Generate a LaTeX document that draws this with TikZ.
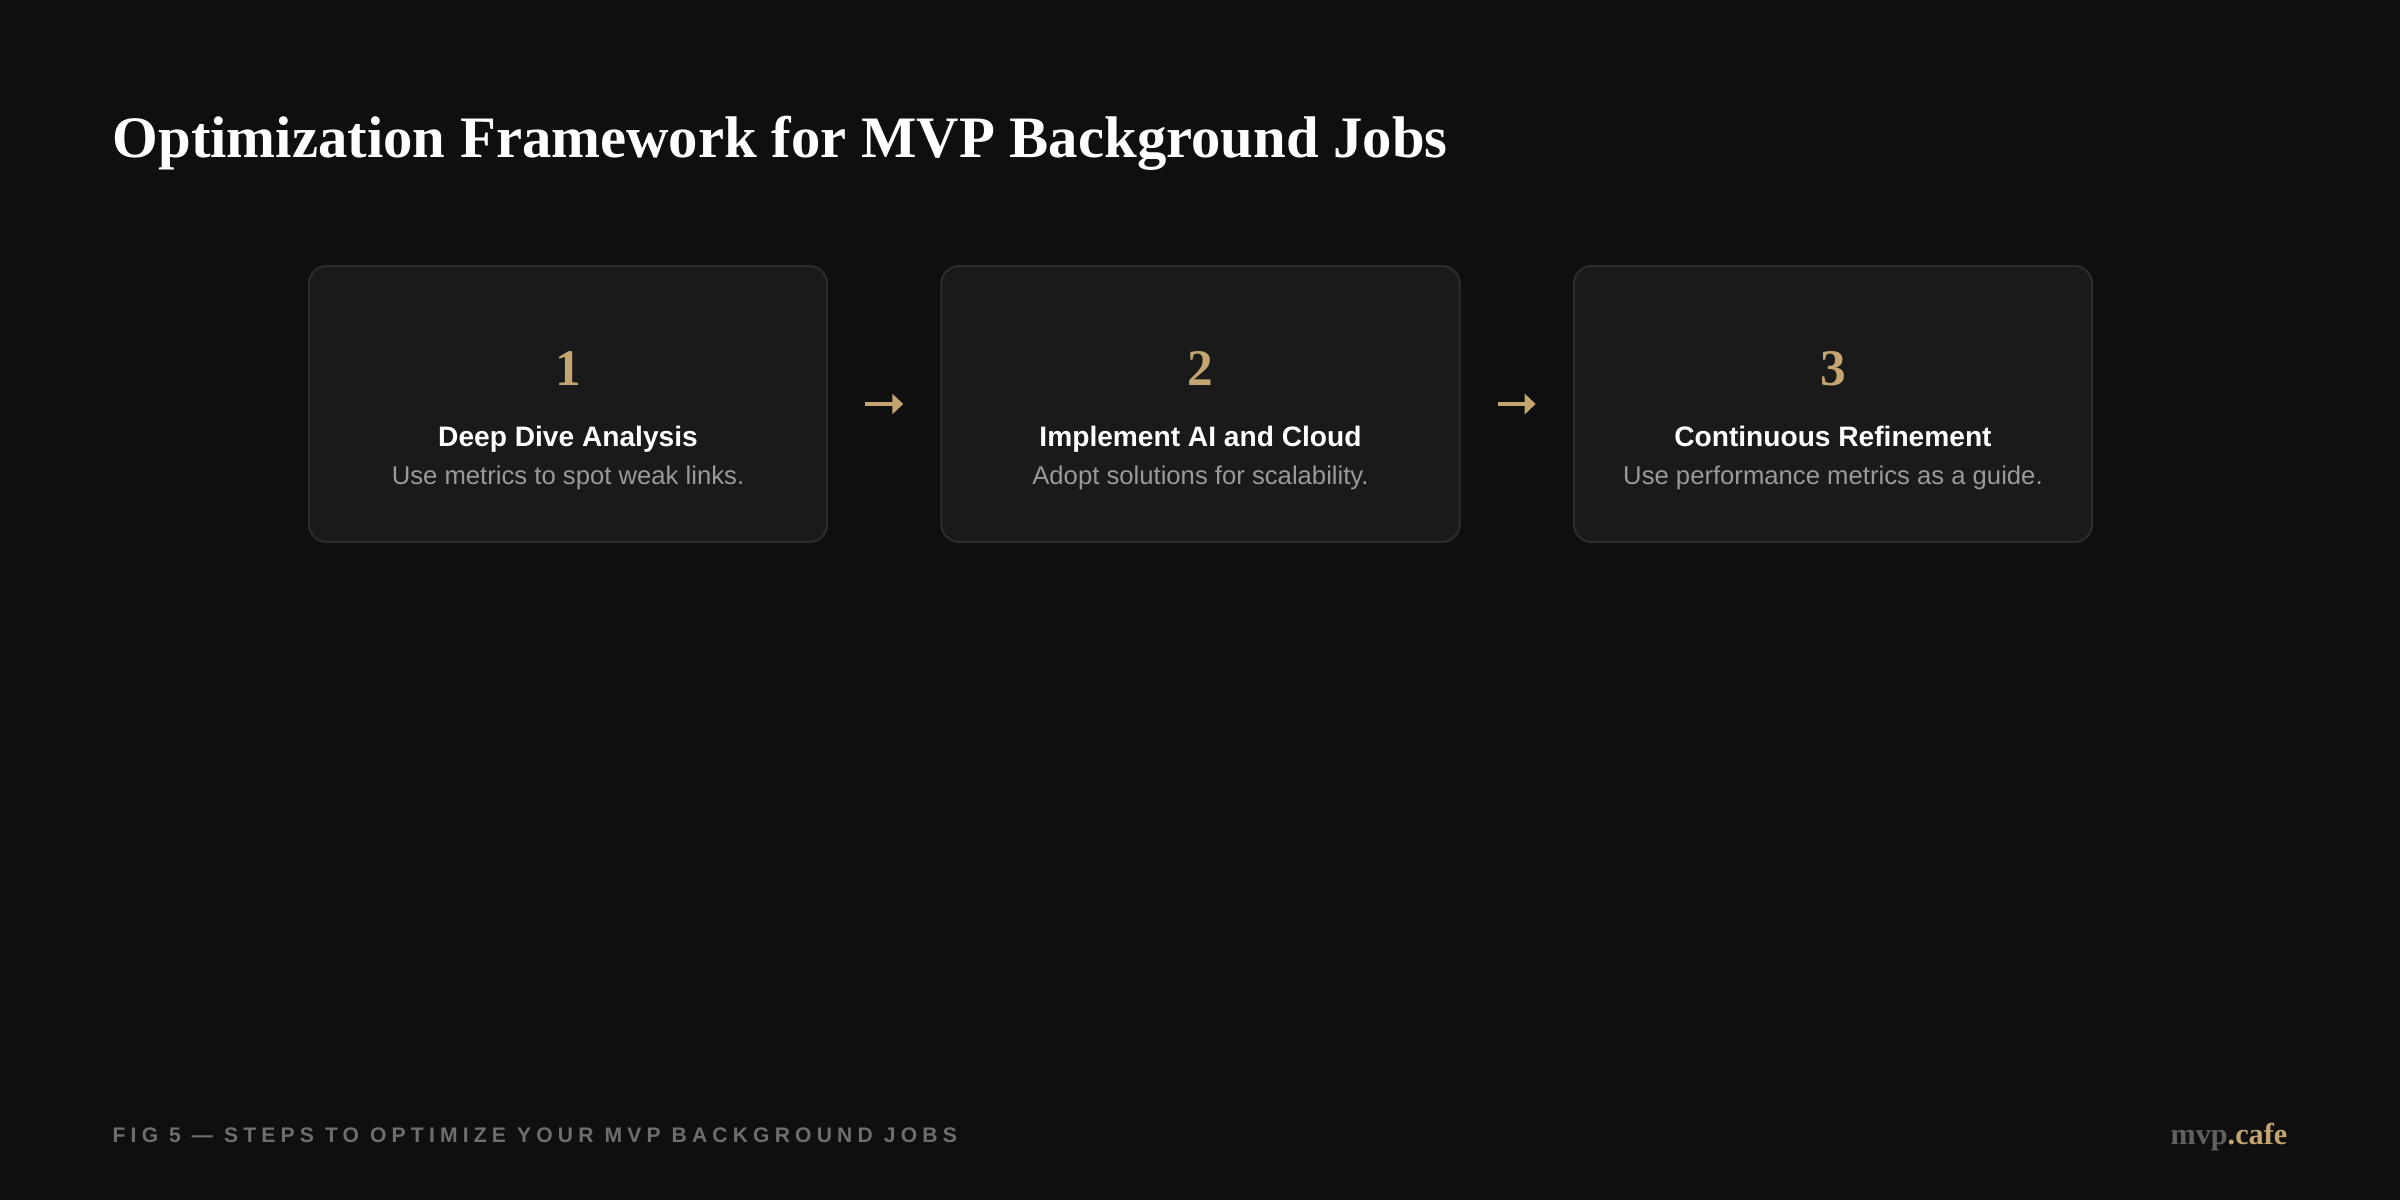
\documentclass[tikz,border=0pt]{standalone}
\usepackage{fontspec}
\setmainfont{Liberation Serif}
\setsansfont{Liberation Sans}
\newfontfamily\capsfont[LetterSpace=24.5]{Liberation Sans}
\usetikzlibrary{positioning,arrows.meta}
\definecolor{bg}{HTML}{0F0F0F}
\definecolor{cardbg}{HTML}{1A1A1A}
\definecolor{cardline}{HTML}{2C2C2C}
\definecolor{gold}{HTML}{C4A572}
\definecolor{subgray}{HTML}{9A9A9A}
\definecolor{footgray}{HTML}{6E6E6E}
\begin{document}
\begin{tikzpicture}[x=0.01cm,y=-0.01cm,line join=round,line cap=round,font=\sffamily]
\tikzset{card/.style={draw=cardline,fill=cardbg,line width=0.6pt,rounded corners=0.18cm,minimum width=5.18cm,minimum height=2.76cm},
  num/.style={anchor=base,text=gold,font=\rmfamily\bfseries\fontsize{14.6}{15}\selectfont},
  head/.style={anchor=base,text=white,font=\sffamily\bfseries\fontsize{8}{9}\selectfont},
  sub/.style={anchor=base,text=subgray,font=\sffamily\fontsize{7.3}{8}\selectfont},
  link/.style={gold,line width=1.4pt,line cap=butt,-{Triangle[length=0.11cm,width=0.2cm]},shorten <=0.37cm,shorten >=0.37cm}}
\fill[bg] (0,0) rectangle (2400,1200);
\node[anchor=base west,inner sep=0pt,text=white,font=\rmfamily\bfseries\fontsize{16.7}{18}\selectfont] (title) at (112,157) {Optimization Framework for MVP Background Jobs};
% step cards
\node[card] (c1) at (568,404) {};
\node[card,right=1.12cm of c1] (c2) {};
\node[card,right=1.12cm of c2] (c3) {};
\node[num] (n1) at ([yshift=0.18cm]c1.center) {1};
\node[head] (h1) at ([yshift=-0.42cm]c1.center) {Deep Dive Analysis};
\node[sub] (s1) at ([yshift=-0.8cm]c1.center) {Use metrics to spot weak links.};
\node[num] (n2) at ([yshift=0.18cm]c2.center) {2};
\node[head] (h2) at ([yshift=-0.42cm]c2.center) {Implement AI and Cloud};
\node[sub] (s2) at ([yshift=-0.8cm]c2.center) {Adopt solutions for scalability.};
\node[num] (n3) at ([yshift=0.18cm]c3.center) {3};
\node[head] (h3) at ([yshift=-0.42cm]c3.center) {Continuous Refinement};
\node[sub] (s3) at ([yshift=-0.8cm]c3.center) {Use performance metrics as a guide.};
\draw[link] (c1) -- (c2);
\draw[link] (c2) -- (c3);
% footer
\node[anchor=base west,inner sep=0pt,text=footgray,font=\capsfont\bfseries\fontsize{6}{7}\selectfont] (fig) at (112,1142) {FIG 5 — STEPS TO OPTIMIZE YOUR MVP BACKGROUND JOBS};
\node[anchor=base east,inner sep=0pt,font=\rmfamily\bfseries\fontsize{8.6}{9}\selectfont] (logo) at (2288,1144) {\textcolor{footgray!110}{mvp}\textcolor{gold}{.cafe}};
\end{tikzpicture}
\end{document}
